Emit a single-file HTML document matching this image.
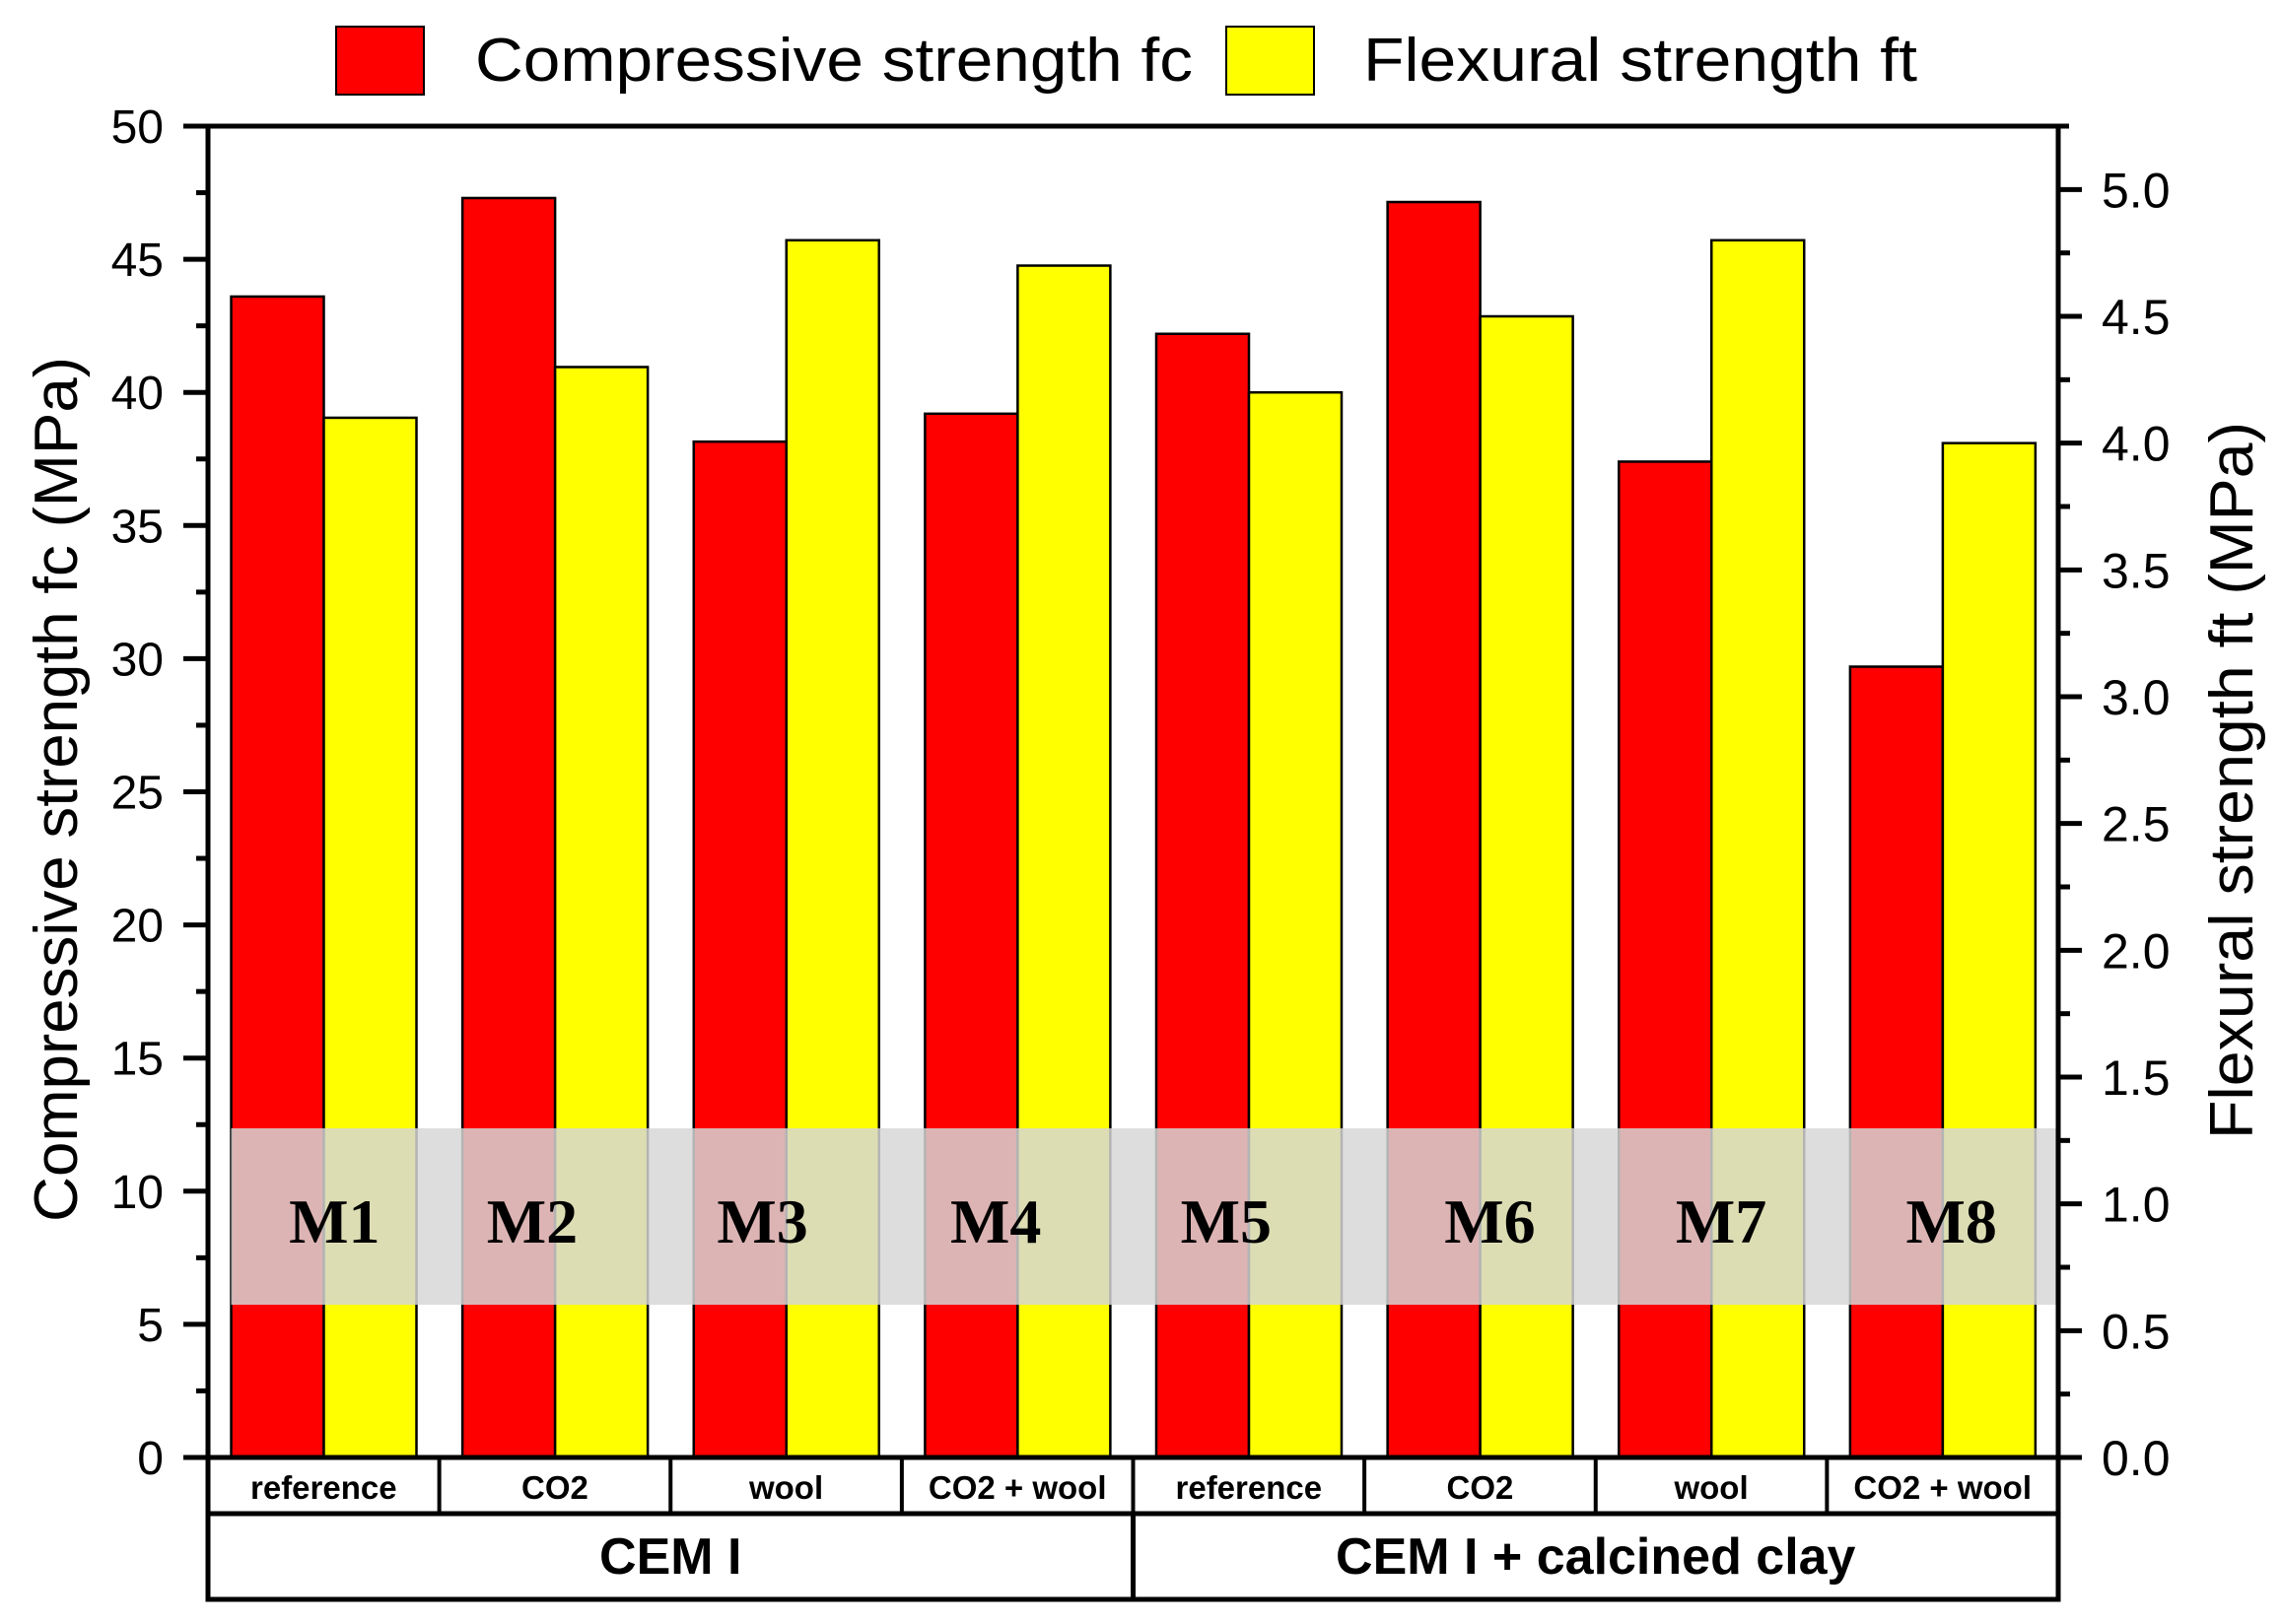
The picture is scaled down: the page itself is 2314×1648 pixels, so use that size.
<!DOCTYPE html>
<html><head><meta charset="utf-8">
<style>
html,body{margin:0;padding:0;background:#fff;}
svg{display:block;}
text{font-family:"Liberation Sans",Arial,sans-serif;}
</style></head>
<body>
<svg id="chart" width="2314" height="1648" viewBox="0 0 2314 1648" xmlns="http://www.w3.org/2000/svg">
  <g id="legend">
    <rect x="341" y="27" width="89" height="69" fill="#ff0000" stroke="#000" stroke-width="2"/>
    <text x="482" y="82" font-size="62" textLength="728" lengthAdjust="spacingAndGlyphs">Compressive strength fc</text>
    <rect x="1244" y="27" width="89" height="69" fill="#ffff00" stroke="#000" stroke-width="2"/>
    <text x="1383" y="82" font-size="62" textLength="562" lengthAdjust="spacingAndGlyphs">Flexural strength ft</text>
  </g>
  <g id="bars"></g>
  <g id="band"></g>
  <g id="axes"></g>
  <text transform="translate(78,801) rotate(-90)" text-anchor="middle" font-size="62" textLength="878" lengthAdjust="spacingAndGlyphs">Compressive strength fc (MPa)</text>
  <text transform="translate(2285,792) rotate(-90)" text-anchor="middle" font-size="62" textLength="728" lengthAdjust="spacingAndGlyphs">Flexural strength ft (MPa)</text>
  <g id="cats"></g>
</svg>
<script>
const mixes = ["M1","M2","M3","M4","M5","M6","M7","M8"];
const categories = ["reference","CO2","wool","CO2 + wool","reference","CO2","wool","CO2 + wool"];
const groups = ["CEM I","CEM I + calcined clay"];
const compressive = [43.6, 47.3, 38.15, 39.2, 42.2, 47.15, 37.4, 29.7];
const flexural = [4.1, 4.3, 4.8, 4.7, 4.2, 4.5, 4.8, 4.0];
const leftTicks = [0,5,10,15,20,25,30,35,40,45,50];
const rightTicks = ["0.0","0.5","1.0","1.5","2.0","2.5","3.0","3.5","4.0","4.5","5.0"];

const NS = "http://www.w3.org/2000/svg";
const X0 = 211, X1 = 2088, YB = 1479, YT = 128;
const slot = (X1 - X0) / mixes.length;
const yL = v => YB - v * (YB - YT) / 50;
const yR = v => YB - v * (YB - YT) / 5.25;
const xSlot = i => X0 + i * slot;
function mk(tag, attrs, parent) {
  const e = document.createElementNS(NS, tag);
  for (const k in attrs) e.setAttribute(k, attrs[k]);
  parent.appendChild(e);
  return e;
}
const bars = document.getElementById('bars');
const bw = 94;
compressive.forEach((v, i) => {
  const r = mk('rect', {x: xSlot(i) + 23.5, y: yL(v), width: bw, height: YB - yL(v), fill: '#ff0000', stroke: '#000', 'stroke-width': 2.5}, bars);
  
  
});
flexural.forEach((v, i) => {
  const r = mk('rect', {x: xSlot(i) + 23.5 + bw, y: yR(v), width: bw, height: YB - yR(v), fill: '#ffff00', stroke: '#000', 'stroke-width': 2.5}, bars);
  
  
});
// band
const band = document.getElementById('band');
const br = mk('rect', {x: xSlot(0) + 23.5, y: 1145, width: X1 - xSlot(0) - 23.5, height: 179, fill: 'rgb(214,214,214)', 'fill-opacity': 0.84}, band);


const mOff = [11,-23,-24,-22,-23,10,10,9];
mixes.forEach((m, i) => {
  const t = mk('text', {x: xSlot(i) + slot/2 + mOff[i], y: 1261, 'text-anchor': 'middle', 'font-size': 64, 'font-weight': 'bold', style: 'font-family:"Liberation Serif",serif'}, band);
  t.textContent = m;
  
  
});
// axes
const ax = document.getElementById('axes');
const frame = mk('path', {d: `M187 ${YT} H2099 M${X0} ${YT} V${YB} M${X1} ${YT} V${YB}`, stroke: '#000', 'stroke-width': 5, fill: 'none'}, ax);


for (let v = 0; v <= 50; v += 2.5) {
  const major = v % 5 === 0;
  const tk = mk('line', {x1: major ? 186 : 199, x2: X0, y1: yL(v), y2: yL(v), stroke: '#000', 'stroke-width': 5}, ax);
  
  
}
leftTicks.forEach(v => {
  const t = mk('text', {x: 166, y: yL(v) + 17, 'text-anchor': 'end', 'font-size': 48}, ax);
  t.textContent = v;
  
  
});
for (let k = 0; k <= 20; k++) {
  const v = k * 0.25;
  const major = k % 2 === 0;
  const tk = mk('line', {x1: X1, x2: major ? 2112 : 2100, y1: yR(v), y2: yR(v), stroke: '#000', 'stroke-width': 5}, ax);
  
  
}
rightTicks.forEach(s => {
  const t = mk('text', {x: 2132, y: yR(parseFloat(s)) + 18, 'font-size': 50}, ax);
  t.textContent = s;
  
  
});
// category axis
const cats = document.getElementById('cats');
const cf = mk('path', {d: `M186 ${YB} H${X1} M${X0} ${YB} V1623 H${X1} V${YB} M${X0} 1536 H${X1} M${xSlot(4)} 1536 V1623`, stroke: '#000', 'stroke-width': 5, fill: 'none'}, cats);


for (let i = 1; i < mixes.length; i++) {
  const d = mk('line', {x1: xSlot(i), x2: xSlot(i), y1: YB, y2: 1536, stroke: '#000', 'stroke-width': 4}, cats);
  
  
}
categories.forEach((c, i) => {
  const t = mk('text', {x: xSlot(i) + slot/2, y: 1521, 'text-anchor': 'middle', 'font-size': 33, 'font-weight': 'bold', style: 'letter-spacing:0px'}, cats);
  t.textContent = c;
  
  
});
groups.forEach((g, i) => {
  const t = mk('text', {x: X0 + (i + 0.5) * (X1 - X0) / 2, y: 1597, 'text-anchor': 'middle', 'font-size': 52, 'font-weight': 'bold'}, cats);
  t.textContent = g;
  
  
});
</script>
</body></html>
